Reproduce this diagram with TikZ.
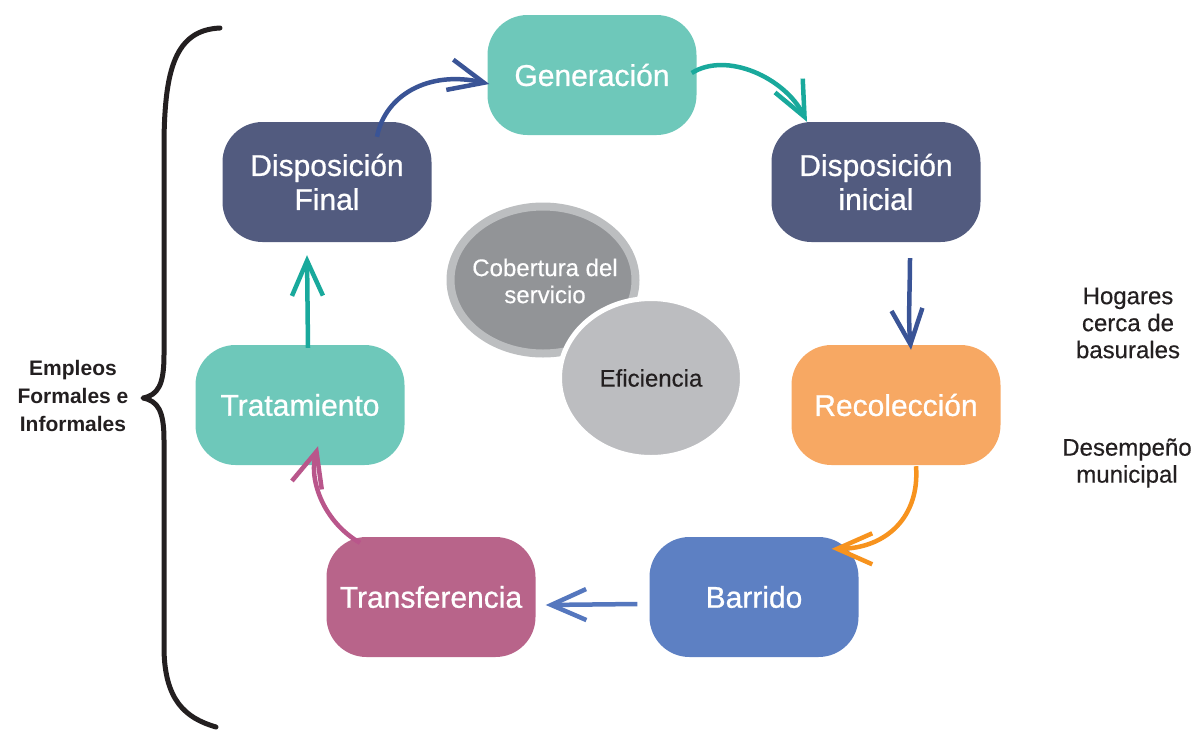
\documentclass[tikz,border=0pt]{standalone}
\usepackage{fontspec}
\setmainfont{Liberation Sans}
\newfontfamily\medfont{Liberation Sans}[FakeBold=0.8]
\newfontfamily\semifont{Liberation Sans}[FakeBold=0.4]
\usetikzlibrary{arrows.meta,calc,shapes.geometric}
\definecolor{tealbox}{HTML}{6EC8BA}
\definecolor{navybox}{HTML}{525B7F}
\definecolor{orangebox}{HTML}{F7A863}
\definecolor{bluebox}{HTML}{5D80C3}
\definecolor{pinkbox}{HTML}{B8648A}
\definecolor{darkell}{HTML}{929497}
\definecolor{ringell}{HTML}{BCBEC0}
\definecolor{lightell}{HTML}{BCBDC0}
\definecolor{txt}{HTML}{231F20}
\definecolor{navyarr}{HTML}{3A5496}
\definecolor{tealarr}{HTML}{19A99C}
\definecolor{orangearr}{HTML}{F7931E}
\definecolor{bluearr}{HTML}{5577BE}
\definecolor{pinkarr}{HTML}{B9568B}
\begin{document}
\begin{tikzpicture}[x=1pt,y=-1pt,
  box/.style={rectangle, rounded corners=40pt, minimum width=209pt, minimum height=120pt,
    text=white, font=\medfont\fontsize{30}{34}\selectfont, align=center, inner sep=0pt},
  arr/.style={line width=4.5pt, -{Straight Barb[length=35pt,width=31pt]}},
  sidetext/.style={text=txt, align=center, inner sep=0pt, font=\semifont\fontsize{24}{27}\selectfont}]
\useasboundingbox (0,0) rectangle (1203,729);
% ellipses
\node[ellipse, draw=ringell, line width=8pt, fill=darkell, minimum width=185pt, minimum height=147pt,
  inner sep=0pt] (cob) at (543,280) {};
\node[text=white, align=center, inner sep=0pt, font=\semifont\fontsize{24}{27}\selectfont] (cobtext) at (545,281) {Cobertura del\\servicio};
\node[ellipse, draw=white, line width=5pt, fill=lightell, minimum width=183pt, minimum height=159pt,
  text=txt, inner sep=0pt, font=\semifont\fontsize{24}{27}\selectfont] (efi) at (651,378) {Eficiencia};
% boxes
\node[box, fill=tealbox] (gen) at (592,75) {Generación};
\node[box, fill=navybox] (dini) at (876,182) {Disposición\\inicial};
\node[box, fill=orangebox] (rec) at (896,405) {Recolección};
\node[box, fill=bluebox] (bar) at (754,597) {Barrido};
\node[box, fill=pinkbox] (trans) at (431,597) {Transferencia};
\node[box, fill=tealbox] (trat) at (300,405) {Tratamiento};
\node[box, fill=navybox] (dfin) at (327,182) {Disposición\\Final};
% arrows
\draw[arr, navyarr] ([shift={(50,15)}]dfin.north) .. controls +(8,-42) and +(-60,-14) .. ([shift={(2,9)}]gen.west);
\draw[arr, tealarr] ([shift={(-5,-2)}]gen.east) .. controls +(35,-22) and +(-22,-44) .. ([shift={(-69,0)}]dini.north);
\draw[arr, navyarr] ([shift={(34,16)}]dini.south) .. controls +(0,30) and +(-3,-30) .. ([shift={(15,5)}]rec.north);
\draw[arr, orangearr] ([shift={(20,1)}]rec.south) .. controls +(4,50) and +(55,0) .. ([shift={(-27,12)}]bar.north east);
\draw[arr, bluearr] ([shift={(-12,7)}]bar.west) -- ([shift={(10,8)}]trans.east);
\draw[arr, pinkarr] ([shift={(-71,6)}]trans.north) .. controls +(-35,-20) and +(-10,35) .. ([shift={(18,-19)}]trat.south);
\draw[arr, tealarr] ([shift={(8,3)}]trat.north) -- ([shift={(-20,13)}]dfin.south);
% side labels
\node[sidetext, font=\bfseries\fontsize{21}{28}\selectfont] (emp) at (73,396) {Empleos\\Formales e\\Informales};
\node[sidetext] (hog) at (1128,323) {Hogares\\cerca de\\basurales};
\node[sidetext] (des) at (1127,463) {Desempeño\\municipal};
% brace
\coordinate (bracetip) at (143,398);
\draw[txt, line width=5pt, line cap=round, line join=round]
  (220,28) .. controls (175,30) and (165,70) .. (164,140) -- (164,355)
  .. controls (164,385) and (158,395) .. (bracetip)
  .. controls (158,401) and (164,411) .. (164,440) -- (164,650)
  .. controls (165,700) and (185,718) .. (216,727);
\end{tikzpicture}
\end{document}
